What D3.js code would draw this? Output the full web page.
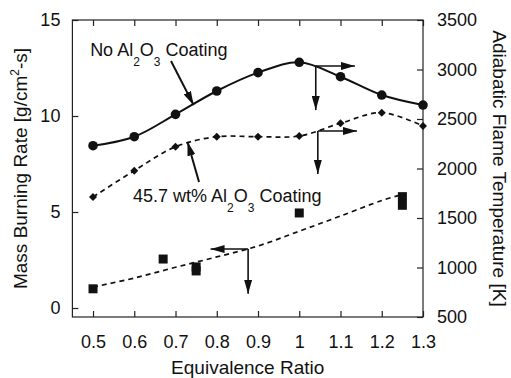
<!DOCTYPE html>
<html>
<head>
<meta charset="utf-8">
<script src="https://cdn.jsdelivr.net/npm/d3@7"></script>
<style>
  body { margin: 0; background: #fff; }
  text { font-family: "Liberation Sans", Arial, Helvetica, sans-serif; fill: #111; }
</style>
</head>
<body>
<svg id="chart" width="511" height="378"></svg>
<script>
// equivalence ratio of the measured points
var phi = [0.5, 0.6, 0.7, 0.8, 0.9, 1.0, 1.1, 1.2, 1.3];
// adiabatic flame temperature [K], right axis
var tempNoCoat  = [2230, 2321, 2547, 2783, 2968, 3073, 2927, 2742, 2641];
var tempCoated  = [1712, 1978, 2220, 2321, 2321, 2328, 2457, 2564, 2429];
// mass burning rate [g/cm2-s], left axis
var massPhi  = [0.5, 0.67, 0.75, 0.75, 1.0, 1.25, 1.25];
var massRate = [1.0, 2.55, 2.14, 1.93, 4.95, 5.8, 5.35];
// dashed trend through the burning-rate data
var fitPhi  = [0.5, 0.6, 0.7, 0.8, 0.9, 1.0, 1.1, 1.2, 1.24];
var fitRate = [1.09, 1.56, 2.12, 2.66, 3.23, 4.0, 4.79, 5.6, 5.85];

var xTicks = [0.5, 0.6, 0.7, 0.8, 0.9, 1.0, 1.1, 1.2, 1.3];
var xTickLabels = ["0.5", "0.6", "0.7", "0.8", "0.9", "1", "1.1", "1.2", "1.3"];
var yLeftTicks = [0, 5, 10, 15];
var yRightTicks = [500, 1000, 1500, 2000, 2500, 3000, 3500];

var svg = d3.select("#chart");

var frame = {left: 72.4, right: 423, top: 20, bottom: 317};

var x = d3.scaleLinear().domain([0.45, 1.3]).range([frame.left, frame.right]),
    yL = d3.scaleLinear().domain([0, 15]).range([308, frame.top]),
    yR = d3.scaleLinear().domain([500, 3500]).range([frame.bottom, frame.top]);

var defs = svg.append("defs");
defs.append("marker")
    .attr("id", "head")
    .attr("markerUnits", "userSpaceOnUse")
    .attr("viewBox", "0 0 14 8")
    .attr("markerWidth", 14)
    .attr("markerHeight", 8)
    .attr("refX", 14)
    .attr("refY", 4)
    .attr("orient", "auto")
  .append("path")
    .attr("d", "M0,0L14,4L0,8Z")
    .attr("fill", "#111");

// frame
svg.append("rect")
    .attr("x", frame.left)
    .attr("y", frame.top)
    .attr("width", frame.right - frame.left)
    .attr("height", frame.bottom - frame.top)
    .attr("fill", "none")
    .attr("stroke", "#222")
    .attr("stroke-width", 1.2);

var fontTick = "18px";

function styleAxis(g) {
  g.select(".domain").remove();
  g.selectAll(".tick line").attr("stroke", "#222").attr("stroke-width", 1.2);
  g.selectAll(".tick text").style("font-size", fontTick).attr("fill", "#111");
}

svg.append("g")
    .attr("transform", "translate(0," + frame.bottom + ")")
    .call(d3.axisBottom(x).tickValues(xTicks)
      .tickFormat(function(d, i) { return xTickLabels[i]; })
      .tickSize(-6).tickPadding(18))
    .call(styleAxis);

svg.append("g")
    .attr("transform", "translate(0," + frame.top + ")")
    .call(d3.axisTop(x).tickValues(xTicks).tickFormat("").tickSize(-6))
    .call(styleAxis);

svg.append("g")
    .attr("transform", "translate(" + frame.left + ",0)")
    .call(d3.axisLeft(yL).tickValues(yLeftTicks).tickFormat(d3.format("d"))
      .tickSize(-6).tickPadding(12))
    .call(styleAxis);

svg.append("g")
    .attr("transform", "translate(" + frame.right + ",0)")
    .call(d3.axisRight(yR).tickValues(yRightTicks).tickFormat(d3.format("d"))
      .tickSize(-6).tickPadding(14))
    .call(styleAxis);

// axis titles
svg.append("text")
    .attr("x", (frame.left + frame.right) / 2)
    .attr("y", 374)
    .attr("text-anchor", "middle")
    .style("font-size", "19px")
    .text("Equivalence Ratio");

var lt = svg.append("text")
    .attr("transform", "translate(27," + (frame.top + frame.bottom) / 2 + ") rotate(-90)")
    .attr("text-anchor", "middle")
    .style("font-size", "19px");
lt.append("tspan").text("Mass Burning Rate [g/cm");
lt.append("tspan").attr("dy", -8).style("font-size", "12px").text("2");
lt.append("tspan").attr("dy", 8).text("-s]");

svg.append("text")
    .attr("transform", "translate(493," + (frame.top + frame.bottom) / 2 + ") rotate(90)")
    .attr("text-anchor", "middle")
    .style("font-size", "19px")
    .text("Adiabatic Flame Temperature [K]");

// curves
var tempLine = function(vals) {
  return d3.line()
    .curve(d3.curveCatmullRom.alpha(0.5))
    .x(function(d, i) { return x(phi[i]); })
    .y(function(d) { return yR(d); })(vals);
};

svg.append("path")
    .attr("d", tempLine(tempNoCoat))
    .attr("fill", "none")
    .attr("stroke", "#111")
    .attr("stroke-width", 2);

svg.append("path")
    .attr("d", tempLine(tempCoated))
    .attr("fill", "none")
    .attr("stroke", "#111")
    .attr("stroke-width", 1.7)
    .attr("stroke-dasharray", "5,4");

svg.append("path")
    .attr("d", d3.line()
      .curve(d3.curveCatmullRom.alpha(0.5))
      .x(function(d, i) { return x(fitPhi[i]); })
      .y(function(d) { return yL(d); })(fitRate))
    .attr("fill", "none")
    .attr("stroke", "#111")
    .attr("stroke-width", 1.7)
    .attr("stroke-dasharray", "5,4");

// markers
svg.append("g").selectAll("circle")
    .data(tempNoCoat)
    .enter().append("circle")
    .attr("cx", function(d, i) { return x(phi[i]); })
    .attr("cy", function(d) { return yR(d); })
    .attr("r", 4.8)
    .attr("fill", "#111");

svg.append("g").selectAll("path")
    .data(tempCoated)
    .enter().append("path")
    .attr("transform", function(d, i) { return "translate(" + x(phi[i]) + "," + yR(d) + ")"; })
    .attr("d", "M0,-4L4,0L0,4L-4,0Z")
    .attr("fill", "#111");

svg.append("g").selectAll("rect")
    .data(massRate)
    .enter().append("rect")
    .attr("x", function(d, i) { return x(massPhi[i]) - 4.5; })
    .attr("y", function(d) { return yL(d) - 4.5; })
    .attr("width", 9)
    .attr("height", 9)
    .attr("fill", "#111");

// annotations (in data units)
function arrow(x1, y1, x2, y2, w) {
  svg.append("line")
      .attr("x1", x1).attr("y1", y1)
      .attr("x2", x2).attr("y2", y2)
      .attr("stroke", "#111")
      .attr("stroke-width", w || 1.6)
      .attr("marker-end", "url(#head)");
}

// which axis each curve belongs to
arrow(x(1.04), yR(3035), x(1.135), yR(3035));
arrow(x(1.04), yR(3035), x(1.04), yR(2590));
arrow(x(1.045), yR(2379), x(1.14), yR(2379));
arrow(x(1.045), yR(2379), x(1.045), yR(1945));
arrow(x(0.876), yL(3.07), x(0.785), yL(3.07));
arrow(x(0.876), yL(3.07), x(0.876), yL(0.74));

// series labels
arrow(x(0.689), yR(3086), x(0.744), yR(2640), 2);
arrow(x(0.757), yR(1864), x(0.729), yR(2270), 2);

function label(px, py, parts) {
  var t = svg.append("text").attr("x", px).attr("y", py).style("font-size", "18px");
  t.append("tspan").text(parts[0]);
  t.append("tspan").attr("dy", 10).style("font-size", "12px").text("2");
  t.append("tspan").attr("dy", -10).text("O");
  t.append("tspan").attr("dy", 10).style("font-size", "12px").text("3");
  t.append("tspan").attr("dy", -10).text(parts[1]);
}

label(x(0.493), yR(3136), ["No Al", " Coating"]);
label(x(0.597), yR(1662), ["45.7 wt% Al", " Coating"]);
</script>
</body>
</html>
